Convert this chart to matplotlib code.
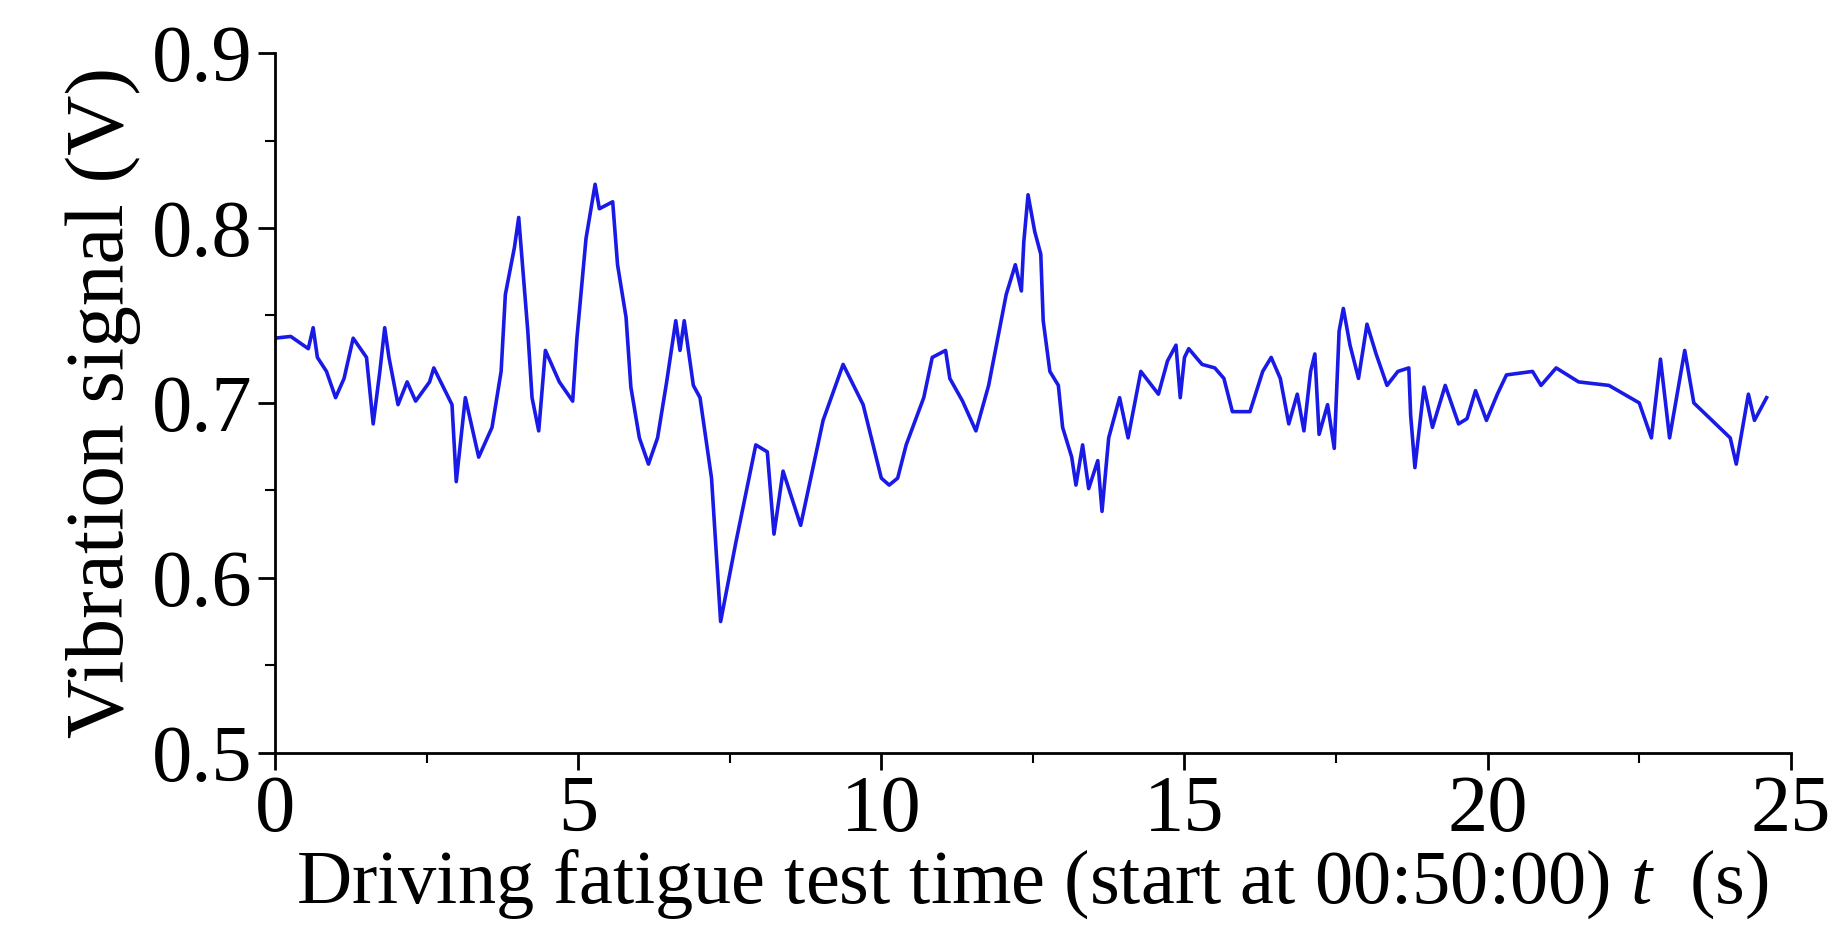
import matplotlib
matplotlib.use("Agg")
import matplotlib.pyplot as plt
from matplotlib.ticker import MultipleLocator

t = [0, 0.26, 0.55, 0.63, 0.70, 0.85, 1.0, 1.14, 1.29, 1.51, 1.62, 1.73, 1.81, 1.88, 2.03, 2.18, 2.32, 2.55, 2.62,
     2.92, 2.99, 3.14, 3.36, 3.58, 3.73, 3.8, 3.95, 4.02, 4.17, 4.24, 4.35, 4.46, 4.69, 4.91, 4.98, 5.13, 5.28,
     5.35, 5.57, 5.65, 5.79, 5.87, 6.01, 6.16, 6.31, 6.46, 6.61, 6.68, 6.75, 6.90, 7.01, 7.20, 7.35, 7.6, 7.93,
     8.12, 8.23, 8.38, 8.67, 9.04, 9.37, 9.7, 10.0, 10.13, 10.27, 10.41, 10.70, 10.84, 11.06, 11.13, 11.34, 11.56,
     11.77, 11.92, 12.06, 12.21, 12.31, 12.35, 12.42, 12.53, 12.63, 12.67, 12.78, 12.92, 12.99, 13.14, 13.21,
     13.32, 13.42, 13.57, 13.64, 13.75, 13.93, 14.07, 14.28, 14.57, 14.72, 14.86, 14.93, 15.0, 15.07, 15.29, 15.5,
     15.65, 15.79, 16.08, 16.29, 16.43, 16.58, 16.72, 16.86, 16.97, 17.08, 17.15, 17.22, 17.36, 17.47, 17.55,
     17.62, 17.73, 17.87, 18.01, 18.16, 18.34, 18.52, 18.70, 18.73, 18.80, 18.95, 19.09, 19.30, 19.52, 19.66,
     19.80, 19.98, 20.16, 20.31, 20.74, 20.88, 21.13, 21.5, 22.0, 22.5, 22.7, 22.85, 23.0, 23.25, 23.4, 23.7,
     24.0, 24.1, 24.3, 24.4, 24.6]
v = [0.737, 0.738, 0.731, 0.743, 0.726, 0.718, 0.703, 0.714, 0.737, 0.726, 0.688, 0.718, 0.743, 0.726, 0.699,
     0.712, 0.701, 0.712, 0.720, 0.699, 0.655, 0.703, 0.669, 0.686, 0.718, 0.762, 0.789, 0.806, 0.741, 0.703,
     0.684, 0.730, 0.712, 0.701, 0.737, 0.794, 0.825, 0.811, 0.815, 0.779, 0.749, 0.709, 0.680, 0.665, 0.680,
     0.712, 0.747, 0.730, 0.747, 0.710, 0.703, 0.657, 0.575, 0.620, 0.676, 0.672, 0.625, 0.661, 0.630, 0.690,
     0.722, 0.699, 0.657, 0.653, 0.657, 0.676, 0.703, 0.726, 0.730, 0.714, 0.701, 0.684, 0.710, 0.737, 0.762,
     0.779, 0.764, 0.792, 0.819, 0.798, 0.785, 0.747, 0.718, 0.710, 0.686, 0.669, 0.653, 0.676, 0.651, 0.667,
     0.638, 0.680, 0.703, 0.680, 0.718, 0.705, 0.724, 0.733, 0.703, 0.726, 0.731, 0.722, 0.720, 0.714, 0.695,
     0.695, 0.718, 0.726, 0.714, 0.688, 0.705, 0.684, 0.718, 0.728, 0.682, 0.699, 0.674, 0.741, 0.754, 0.733,
     0.714, 0.745, 0.728, 0.710, 0.718, 0.720, 0.693, 0.663, 0.709, 0.686, 0.710, 0.688, 0.691, 0.707, 0.690,
     0.705, 0.716, 0.718, 0.710, 0.720, 0.712, 0.710, 0.700, 0.680, 0.725, 0.680, 0.730, 0.700, 0.690, 0.680,
     0.665, 0.705, 0.690, 0.703]

xticks = [0, 5, 10, 15, 20, 25]
yticks = [0.5, 0.6, 0.7, 0.8, 0.9]

plt.rcParams['font.family'] = ['Liberation Serif', 'DejaVu Serif']
plt.rcParams['mathtext.fontset'] = 'custom'
plt.rcParams['mathtext.it'] = 'Liberation Serif:italic'
plt.rcParams['mathtext.rm'] = 'Liberation Serif'
fig = plt.figure(figsize=(18.33, 9.48), dpi=100)
ax = fig.add_axes([0.15, 0.206, 0.827, 0.738])
ax.plot(t, v, color='#1a1ae6', lw=2.6)
ax.set_xlim(0, 25)
ax.set_ylim(0.5, 0.9)
ax.set_xticks(xticks)
ax.set_yticks(yticks)
ax.set_yticklabels([f"{y:.1f}" for y in yticks])
ax.xaxis.set_minor_locator(MultipleLocator(2.5))
ax.yaxis.set_minor_locator(MultipleLocator(0.05))
for s in ['top', 'right']:
    ax.spines[s].set_visible(False)
for s in ['left', 'bottom']:
    ax.spines[s].set_linewidth(2)
ax.tick_params(which='major', length=12, width=2, labelsize=58, direction='out', pad=4)
ax.tick_params(which='minor', length=7, width=1.5, direction='out')
ax.set_xlabel('Driving fatigue test time (start at 00:50:00) $t$  (s)', fontsize=55, labelpad=0)
ax.set_ylabel('Vibration signal (V)', fontsize=60, labelpad=8)
fig.savefig('out.png', dpi=100)
